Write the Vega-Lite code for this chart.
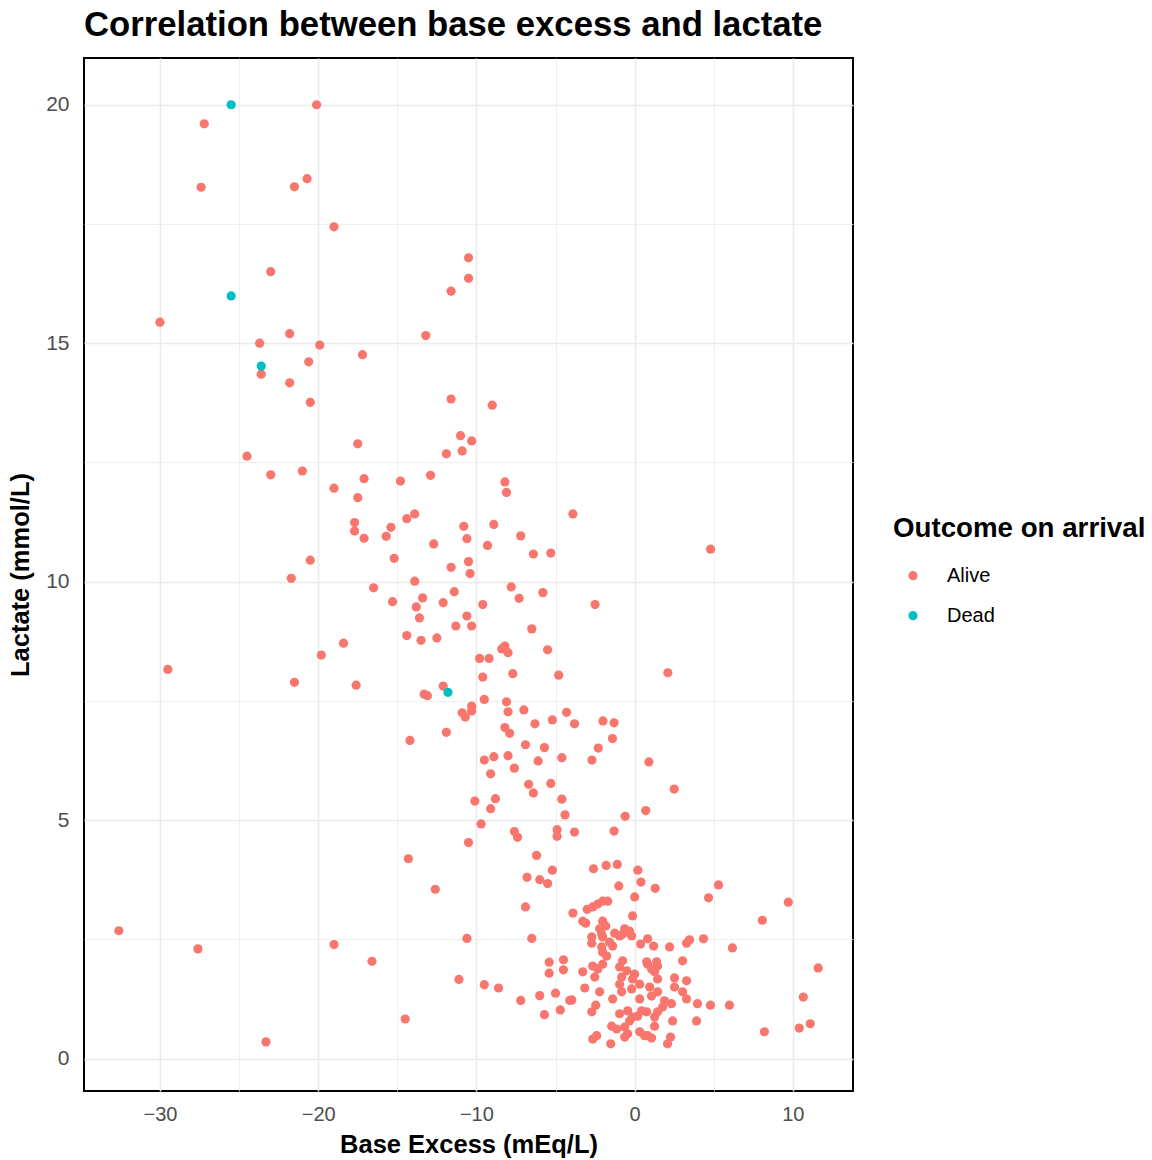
{
  "$schema": "https://vega.github.io/schema/vega-lite/v6.json",
  "autosize": {"type": "none"},
  "padding": {"left": 84, "top": 58, "right": 299, "bottom": 69},
  "width": 769,
  "height": 1033,
  "background": "white",
  "title": {"text": "Correlation between base excess and lactate", "anchor": "start", "frame": "group", "fontSize": 34.7, "fontWeight": "bold", "font": "Liberation Sans", "color": "black", "offset": 14, "limit": 1000},
  "config": {
    "view": {"stroke": "black", "strokeWidth": 2},
    "font": "Liberation Sans"
  },
  "datasets": {
    "pts": [
      {"be":-20.1,"lac":20.0,"outcome":"Alive"},{"be":-27.2,"lac":19.6,"outcome":"Alive"},{"be":-27.4,"lac":18.27,"outcome":"Alive"},{"be":-21.5,"lac":18.28,"outcome":"Alive"},{"be":-20.7,"lac":18.45,"outcome":"Alive"},{"be":-19.0,"lac":17.44,"outcome":"Alive"},{"be":-23.0,"lac":16.5,"outcome":"Alive"},{"be":-10.5,"lac":16.79,"outcome":"Alive"},{"be":-10.5,"lac":16.36,"outcome":"Alive"},{"be":-11.6,"lac":16.09,"outcome":"Alive"},
      {"be":-30.0,"lac":15.44,"outcome":"Alive"},{"be":-21.8,"lac":15.2,"outcome":"Alive"},{"be":-23.7,"lac":15.0,"outcome":"Alive"},{"be":-19.9,"lac":14.96,"outcome":"Alive"},{"be":-17.2,"lac":14.76,"outcome":"Alive"},{"be":-13.2,"lac":15.16,"outcome":"Alive"},{"be":-20.6,"lac":14.61,"outcome":"Alive"},{"be":-23.6,"lac":14.35,"outcome":"Alive"},{"be":-21.8,"lac":14.17,"outcome":"Alive"},{"be":-20.5,"lac":13.76,"outcome":"Alive"},
      {"be":-11.6,"lac":13.83,"outcome":"Alive"},{"be":-9.0,"lac":13.7,"outcome":"Alive"},{"be":-11.0,"lac":13.06,"outcome":"Alive"},{"be":-10.3,"lac":12.95,"outcome":"Alive"},{"be":-10.9,"lac":12.74,"outcome":"Alive"},{"be":-11.9,"lac":12.68,"outcome":"Alive"},{"be":-17.5,"lac":12.89,"outcome":"Alive"},{"be":-24.5,"lac":12.63,"outcome":"Alive"},{"be":-23.0,"lac":12.24,"outcome":"Alive"},{"be":-21.0,"lac":12.32,"outcome":"Alive"},
      {"be":-17.1,"lac":12.16,"outcome":"Alive"},{"be":-19.0,"lac":11.96,"outcome":"Alive"},{"be":-14.8,"lac":12.11,"outcome":"Alive"},{"be":-12.9,"lac":12.23,"outcome":"Alive"},{"be":-8.2,"lac":12.09,"outcome":"Alive"},{"be":-8.1,"lac":11.87,"outcome":"Alive"},{"be":-17.5,"lac":11.76,"outcome":"Alive"},{"be":-3.9,"lac":11.42,"outcome":"Alive"},{"be":-17.7,"lac":11.24,"outcome":"Alive"},{"be":-17.7,"lac":11.06,"outcome":"Alive"},
      {"be":-17.1,"lac":10.91,"outcome":"Alive"},{"be":-15.4,"lac":11.14,"outcome":"Alive"},{"be":-15.7,"lac":10.95,"outcome":"Alive"},{"be":-14.4,"lac":11.32,"outcome":"Alive"},{"be":-13.9,"lac":11.42,"outcome":"Alive"},{"be":-10.8,"lac":11.16,"outcome":"Alive"},{"be":-10.6,"lac":10.9,"outcome":"Alive"},{"be":-12.7,"lac":10.79,"outcome":"Alive"},{"be":-9.3,"lac":10.76,"outcome":"Alive"},{"be":-8.9,"lac":11.2,"outcome":"Alive"},
      {"be":-7.2,"lac":10.96,"outcome":"Alive"},{"be":-6.4,"lac":10.58,"outcome":"Alive"},{"be":-5.3,"lac":10.6,"outcome":"Alive"},{"be":4.8,"lac":10.68,"outcome":"Alive"},{"be":-20.5,"lac":10.45,"outcome":"Alive"},{"be":-15.2,"lac":10.49,"outcome":"Alive"},{"be":-11.6,"lac":10.3,"outcome":"Alive"},{"be":-10.5,"lac":10.42,"outcome":"Alive"},{"be":-10.4,"lac":10.17,"outcome":"Alive"},{"be":-21.7,"lac":10.07,"outcome":"Alive"},
      {"be":-13.9,"lac":10.01,"outcome":"Alive"},{"be":-16.5,"lac":9.87,"outcome":"Alive"},{"be":-11.4,"lac":9.79,"outcome":"Alive"},{"be":-15.3,"lac":9.58,"outcome":"Alive"},{"be":-13.4,"lac":9.66,"outcome":"Alive"},{"be":-13.8,"lac":9.47,"outcome":"Alive"},{"be":-12.1,"lac":9.56,"outcome":"Alive"},{"be":-9.6,"lac":9.52,"outcome":"Alive"},{"be":-13.6,"lac":9.24,"outcome":"Alive"},{"be":-10.6,"lac":9.28,"outcome":"Alive"},
      {"be":-11.3,"lac":9.07,"outcome":"Alive"},{"be":-10.3,"lac":9.07,"outcome":"Alive"},{"be":-14.4,"lac":8.87,"outcome":"Alive"},{"be":-13.5,"lac":8.77,"outcome":"Alive"},{"be":-12.5,"lac":8.82,"outcome":"Alive"},{"be":-18.4,"lac":8.71,"outcome":"Alive"},{"be":-19.8,"lac":8.46,"outcome":"Alive"},{"be":-29.5,"lac":8.16,"outcome":"Alive"},{"be":-21.5,"lac":7.89,"outcome":"Alive"},{"be":-17.6,"lac":7.83,"outcome":"Alive"},
      {"be":-12.1,"lac":7.81,"outcome":"Alive"},{"be":-13.3,"lac":7.64,"outcome":"Alive"},{"be":-13.1,"lac":7.61,"outcome":"Alive"},{"be":-7.8,"lac":9.89,"outcome":"Alive"},{"be":-7.3,"lac":9.65,"outcome":"Alive"},{"be":-5.8,"lac":9.77,"outcome":"Alive"},{"be":-2.5,"lac":9.52,"outcome":"Alive"},{"be":-6.5,"lac":9.01,"outcome":"Alive"},{"be":-8.4,"lac":8.59,"outcome":"Alive"},{"be":-8.2,"lac":8.65,"outcome":"Alive"},
      {"be":-8.0,"lac":8.51,"outcome":"Alive"},{"be":-5.5,"lac":8.57,"outcome":"Alive"},{"be":-9.8,"lac":8.39,"outcome":"Alive"},{"be":-9.2,"lac":8.39,"outcome":"Alive"},{"be":-9.6,"lac":8.0,"outcome":"Alive"},{"be":-7.7,"lac":8.07,"outcome":"Alive"},{"be":-4.8,"lac":8.04,"outcome":"Alive"},{"be":2.1,"lac":8.09,"outcome":"Alive"},{"be":-9.5,"lac":7.53,"outcome":"Alive"},{"be":-8.1,"lac":7.48,"outcome":"Alive"},
      {"be":-10.3,"lac":7.39,"outcome":"Alive"},{"be":-10.9,"lac":7.25,"outcome":"Alive"},{"be":-10.7,"lac":7.16,"outcome":"Alive"},{"be":-10.3,"lac":7.29,"outcome":"Alive"},{"be":-8.0,"lac":7.27,"outcome":"Alive"},{"be":-7.0,"lac":7.31,"outcome":"Alive"},{"be":-6.3,"lac":7.02,"outcome":"Alive"},{"be":-5.2,"lac":7.1,"outcome":"Alive"},{"be":-4.3,"lac":7.26,"outcome":"Alive"},{"be":-3.8,"lac":7.02,"outcome":"Alive"},
      {"be":-2.0,"lac":7.08,"outcome":"Alive"},{"be":-1.3,"lac":7.04,"outcome":"Alive"},{"be":-1.4,"lac":6.71,"outcome":"Alive"},{"be":-2.3,"lac":6.51,"outcome":"Alive"},{"be":-2.7,"lac":6.26,"outcome":"Alive"},{"be":0.9,"lac":6.22,"outcome":"Alive"},{"be":2.5,"lac":5.65,"outcome":"Alive"},{"be":0.7,"lac":5.2,"outcome":"Alive"},{"be":-0.6,"lac":5.08,"outcome":"Alive"},{"be":-14.2,"lac":6.67,"outcome":"Alive"},
      {"be":-11.9,"lac":6.84,"outcome":"Alive"},{"be":-8.2,"lac":6.94,"outcome":"Alive"},{"be":-7.9,"lac":6.82,"outcome":"Alive"},{"be":-6.9,"lac":6.58,"outcome":"Alive"},{"be":-5.7,"lac":6.52,"outcome":"Alive"},{"be":-4.6,"lac":6.31,"outcome":"Alive"},{"be":-9.5,"lac":6.26,"outcome":"Alive"},{"be":-8.9,"lac":6.33,"outcome":"Alive"},{"be":-8.0,"lac":6.35,"outcome":"Alive"},{"be":-6.1,"lac":6.24,"outcome":"Alive"},
      {"be":-7.6,"lac":6.09,"outcome":"Alive"},{"be":-9.1,"lac":5.97,"outcome":"Alive"},{"be":-6.7,"lac":5.75,"outcome":"Alive"},{"be":-6.4,"lac":5.57,"outcome":"Alive"},{"be":-5.3,"lac":5.77,"outcome":"Alive"},{"be":-4.6,"lac":5.44,"outcome":"Alive"},{"be":-10.1,"lac":5.4,"outcome":"Alive"},{"be":-8.8,"lac":5.45,"outcome":"Alive"},{"be":-9.1,"lac":5.24,"outcome":"Alive"},{"be":-4.4,"lac":5.11,"outcome":"Alive"},
      {"be":-9.7,"lac":4.92,"outcome":"Alive"},{"be":-7.6,"lac":4.76,"outcome":"Alive"},{"be":-7.4,"lac":4.64,"outcome":"Alive"},{"be":-4.9,"lac":4.8,"outcome":"Alive"},{"be":-4.9,"lac":4.66,"outcome":"Alive"},{"be":-3.8,"lac":4.75,"outcome":"Alive"},{"be":-1.3,"lac":4.77,"outcome":"Alive"},{"be":-10.5,"lac":4.53,"outcome":"Alive"},{"be":-14.3,"lac":4.19,"outcome":"Alive"},{"be":-6.2,"lac":4.26,"outcome":"Alive"},
      {"be":-5.2,"lac":3.95,"outcome":"Alive"},{"be":-6.8,"lac":3.8,"outcome":"Alive"},{"be":-6.0,"lac":3.75,"outcome":"Alive"},{"be":-5.5,"lac":3.67,"outcome":"Alive"},{"be":-2.6,"lac":3.98,"outcome":"Alive"},{"be":-1.8,"lac":4.05,"outcome":"Alive"},{"be":-1.1,"lac":4.07,"outcome":"Alive"},{"be":0.2,"lac":3.95,"outcome":"Alive"},{"be":0.4,"lac":3.7,"outcome":"Alive"},{"be":-1.0,"lac":3.62,"outcome":"Alive"},
      {"be":1.3,"lac":3.57,"outcome":"Alive"},{"be":-12.6,"lac":3.55,"outcome":"Alive"},{"be":0.0,"lac":3.39,"outcome":"Alive"},{"be":-32.6,"lac":2.68,"outcome":"Alive"},{"be":-27.6,"lac":2.3,"outcome":"Alive"},{"be":-19.0,"lac":2.39,"outcome":"Alive"},{"be":-16.6,"lac":2.04,"outcome":"Alive"},{"be":-10.6,"lac":2.52,"outcome":"Alive"},{"be":-11.1,"lac":1.66,"outcome":"Alive"},{"be":-9.5,"lac":1.55,"outcome":"Alive"},
      {"be":-14.5,"lac":0.83,"outcome":"Alive"},{"be":-23.3,"lac":0.35,"outcome":"Alive"},{"be":-6.9,"lac":3.18,"outcome":"Alive"},{"be":-6.5,"lac":2.52,"outcome":"Alive"},{"be":-8.6,"lac":1.48,"outcome":"Alive"},{"be":-7.2,"lac":1.22,"outcome":"Alive"},{"be":-6.0,"lac":1.32,"outcome":"Alive"},{"be":-5.0,"lac":1.37,"outcome":"Alive"},{"be":-4.1,"lac":1.22,"outcome":"Alive"},{"be":-4.7,"lac":1.02,"outcome":"Alive"},
      {"be":-5.7,"lac":0.92,"outcome":"Alive"},{"be":-5.4,"lac":2.02,"outcome":"Alive"},{"be":-5.4,"lac":1.79,"outcome":"Alive"},{"be":-4.5,"lac":2.07,"outcome":"Alive"},{"be":-4.5,"lac":1.86,"outcome":"Alive"},
      {"be":-3.9,"lac":3.05,"outcome":"Alive"},{"be":-3.0,"lac":3.13,"outcome":"Alive"},{"be":-2.65,"lac":3.18,"outcome":"Alive"},{"be":-2.33,"lac":3.24,"outcome":"Alive"},{"be":-2.02,"lac":3.3,"outcome":"Alive"},{"be":-1.7,"lac":3.3,"outcome":"Alive"},{"be":-0.13,"lac":2.99,"outcome":"Alive"},{"be":-3.28,"lac":2.88,"outcome":"Alive"},{"be":-3.09,"lac":2.84,"outcome":"Alive"},{"be":-2.02,"lac":2.88,"outcome":"Alive"},
      {"be":-1.83,"lac":2.78,"outcome":"Alive"},{"be":-2.21,"lac":2.72,"outcome":"Alive"},{"be":-2.08,"lac":2.61,"outcome":"Alive"},{"be":-2.02,"lac":2.55,"outcome":"Alive"},{"be":-2.71,"lac":2.55,"outcome":"Alive"},{"be":-2.71,"lac":2.42,"outcome":"Alive"},{"be":-1.26,"lac":2.63,"outcome":"Alive"},{"be":-0.95,"lac":2.57,"outcome":"Alive"},{"be":-0.63,"lac":2.72,"outcome":"Alive"},{"be":-0.32,"lac":2.67,"outcome":"Alive"},
      {"be":-0.19,"lac":2.57,"outcome":"Alive"},{"be":-0.76,"lac":2.61,"outcome":"Alive"},{"be":-1.58,"lac":2.44,"outcome":"Alive"},{"be":-1.39,"lac":2.36,"outcome":"Alive"},{"be":-2.08,"lac":2.34,"outcome":"Alive"},{"be":-2.02,"lac":2.23,"outcome":"Alive"},{"be":-1.77,"lac":2.15,"outcome":"Alive"},{"be":0.38,"lac":2.4,"outcome":"Alive"},{"be":0.82,"lac":2.51,"outcome":"Alive"},{"be":-2.65,"lac":1.94,"outcome":"Alive"},
      {"be":-2.02,"lac":1.98,"outcome":"Alive"},{"be":-2.33,"lac":1.88,"outcome":"Alive"},{"be":-3.28,"lac":1.82,"outcome":"Alive"},{"be":-0.76,"lac":2.05,"outcome":"Alive"},{"be":-0.95,"lac":1.92,"outcome":"Alive"},{"be":-0.5,"lac":1.84,"outcome":"Alive"},{"be":0.0,"lac":1.77,"outcome":"Alive"},{"be":0.76,"lac":2.03,"outcome":"Alive"},{"be":-2.52,"lac":1.71,"outcome":"Alive"},{"be":-3.97,"lac":1.23,"outcome":"Alive"},
      {"be":-3.15,"lac":1.48,"outcome":"Alive"},{"be":-2.21,"lac":1.4,"outcome":"Alive"},{"be":-2.46,"lac":1.12,"outcome":"Alive"},{"be":-2.71,"lac":0.98,"outcome":"Alive"},{"be":-1.39,"lac":1.25,"outcome":"Alive"},{"be":-0.82,"lac":1.4,"outcome":"Alive"},{"be":-0.95,"lac":1.56,"outcome":"Alive"},{"be":-0.82,"lac":1.71,"outcome":"Alive"},{"be":-0.13,"lac":1.67,"outcome":"Alive"},{"be":-0.19,"lac":1.46,"outcome":"Alive"},
      {"be":0.32,"lac":1.56,"outcome":"Alive"},{"be":0.32,"lac":1.25,"outcome":"Alive"},{"be":-0.95,"lac":0.94,"outcome":"Alive"},{"be":-0.44,"lac":1.0,"outcome":"Alive"},{"be":-0.13,"lac":0.87,"outcome":"Alive"},{"be":-0.32,"lac":0.79,"outcome":"Alive"},{"be":0.19,"lac":0.89,"outcome":"Alive"},{"be":0.44,"lac":1.0,"outcome":"Alive"},{"be":-1.45,"lac":0.68,"outcome":"Alive"},{"be":-1.13,"lac":0.62,"outcome":"Alive"},
      {"be":-0.63,"lac":0.45,"outcome":"Alive"},{"be":-0.44,"lac":0.52,"outcome":"Alive"},{"be":-0.63,"lac":0.66,"outcome":"Alive"},{"be":0.32,"lac":0.56,"outcome":"Alive"},{"be":0.63,"lac":0.48,"outcome":"Alive"},{"be":-2.4,"lac":0.48,"outcome":"Alive"},{"be":-2.65,"lac":0.41,"outcome":"Alive"},{"be":-1.51,"lac":0.31,"outcome":"Alive"},{"be":1.2,"lac":2.36,"outcome":"Alive"},{"be":2.21,"lac":2.34,"outcome":"Alive"},
      {"be":3.28,"lac":2.42,"outcome":"Alive"},{"be":3.47,"lac":2.49,"outcome":"Alive"},{"be":4.35,"lac":2.51,"outcome":"Alive"},{"be":3.03,"lac":2.05,"outcome":"Alive"},{"be":0.82,"lac":1.98,"outcome":"Alive"},{"be":1.07,"lac":1.88,"outcome":"Alive"},{"be":1.39,"lac":2.03,"outcome":"Alive"},{"be":1.45,"lac":1.94,"outcome":"Alive"},{"be":1.26,"lac":1.82,"outcome":"Alive"},{"be":2.52,"lac":1.69,"outcome":"Alive"},
      {"be":1.45,"lac":1.67,"outcome":"Alive"},{"be":3.28,"lac":1.63,"outcome":"Alive"},{"be":2.52,"lac":1.5,"outcome":"Alive"},{"be":3.03,"lac":1.4,"outcome":"Alive"},{"be":3.28,"lac":1.25,"outcome":"Alive"},{"be":3.97,"lac":1.15,"outcome":"Alive"},{"be":4.79,"lac":1.12,"outcome":"Alive"},{"be":0.95,"lac":1.5,"outcome":"Alive"},{"be":1.07,"lac":1.31,"outcome":"Alive"},{"be":1.45,"lac":1.4,"outcome":"Alive"},
      {"be":1.89,"lac":1.21,"outcome":"Alive"},{"be":2.33,"lac":1.15,"outcome":"Alive"},{"be":1.77,"lac":1.08,"outcome":"Alive"},{"be":0.76,"lac":0.98,"outcome":"Alive"},{"be":1.26,"lac":0.87,"outcome":"Alive"},{"be":1.45,"lac":0.98,"outcome":"Alive"},{"be":1.26,"lac":0.68,"outcome":"Alive"},{"be":2.4,"lac":0.79,"outcome":"Alive"},{"be":3.91,"lac":0.79,"outcome":"Alive"},{"be":0.82,"lac":0.48,"outcome":"Alive"},
      {"be":1.07,"lac":0.43,"outcome":"Alive"},{"be":2.27,"lac":0.45,"outcome":"Alive"},{"be":2.08,"lac":0.31,"outcome":"Alive"},{"be":5.99,"lac":1.12,"outcome":"Alive"},{"be":8.2,"lac":0.56,"outcome":"Alive"},{"be":10.4,"lac":0.64,"outcome":"Alive"},{"be":11.1,"lac":0.73,"outcome":"Alive"},{"be":10.66,"lac":1.29,"outcome":"Alive"},{"be":11.6,"lac":1.9,"outcome":"Alive"},{"be":6.18,"lac":2.32,"outcome":"Alive"},
      {"be":8.07,"lac":2.9,"outcome":"Alive"},{"be":9.71,"lac":3.28,"outcome":"Alive"},{"be":5.3,"lac":3.64,"outcome":"Alive"},{"be":4.67,"lac":3.37,"outcome":"Alive"},
      {"be":-25.5,"lac":20.0,"outcome":"Dead"},{"be":-25.5,"lac":15.99,"outcome":"Dead"},{"be":-23.6,"lac":14.52,"outcome":"Dead"},{"be":-11.8,"lac":7.68,"outcome":"Dead"}
    ]
  },
  "data": {"name": "pts"},
  "mark": {"type": "circle", "size": 85, "opacity": 1},
  "encoding": {
    "x": {
      "field": "be", "type": "quantitative",
      "scale": {"domain": [-34.8, 13.8], "nice": false, "zero": false},
      "axis": {
        "title": "Base Excess (mEq/L)",
        "values": [-30, -25, -20, -15, -10, -5, 0, 5, 10],
        "labelExpr": "datum.value % 10 === 0 ? datum.label : ''",
        "domain": false, "ticks": false,
        "labelFontSize": 20, "labelColor": "#4d4d4d", "labelPadding": 13,
        "titleFontSize": 25.5, "titleFontWeight": "bold", "titleColor": "black", "titlePadding": 8,
        "gridColor": "#ebebeb",
        "gridWidth": {"condition": {"test": "datum.value % 10 === 0", "value": 1.6}, "value": 0.8}
      }
    },
    "y": {
      "field": "lac", "type": "quantitative",
      "scale": {"domain": [-0.68, 20.98], "nice": false, "zero": false},
      "axis": {
        "title": "Lactate (mmol/L)",
        "values": [0, 2.5, 5, 7.5, 10, 12.5, 15, 17.5, 20],
        "labelExpr": "datum.value % 5 === 0 ? datum.label : ''",
        "domain": false, "ticks": false,
        "labelFontSize": 21, "labelColor": "#4d4d4d", "labelPadding": 15,
        "titleFontSize": 25.5, "titleFontWeight": "bold", "titleColor": "black", "titlePadding": 12,
        "gridColor": "#ebebeb",
        "gridWidth": {"condition": {"test": "datum.value % 5 === 0", "value": 1.6}, "value": 0.8}
      }
    },
    "color": {
      "field": "outcome", "type": "nominal",
      "scale": {"domain": ["Alive", "Dead"], "range": ["#F8766D", "#00BFC4"]},
      "legend": {
        "title": "Outcome on arrival",
        "orient": "none", "legendX": 809, "legendY": 457,
        "padding": 0,
        "titleFontSize": 27.7, "titleFontWeight": "bold", "titleColor": "black", "titlePadding": 23, "titleLimit": 500,
        "labelFontSize": 20, "labelColor": "black", "labelOffset": 24, "labelLimit": 300,
        "symbolType": "circle", "symbolSize": 85, "symbolOffset": 10, "symbolStrokeWidth": 0,
        "rowPadding": 20
      }
    }
  }
}
